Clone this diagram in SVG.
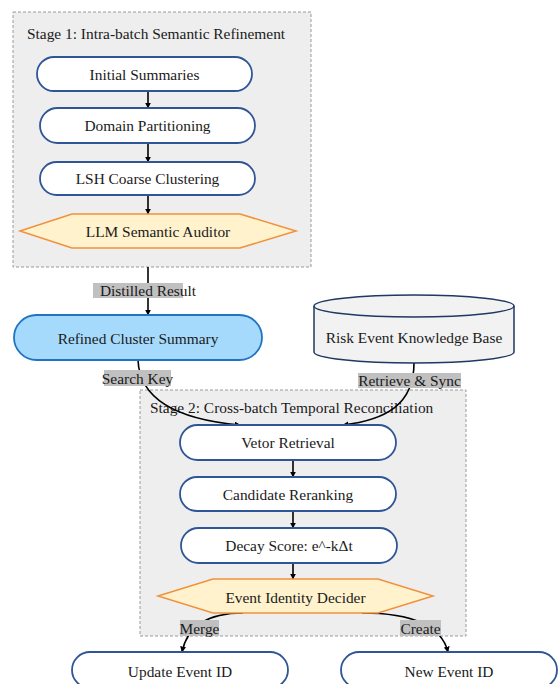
<svg xmlns="http://www.w3.org/2000/svg" width="559" height="684" viewBox="0 0 559 684">
<style>
text{font-family:"Liberation Serif","Times New Roman",serif;font-size:15.4px;fill:#1a1a1a}
.c{text-anchor:middle;dominant-baseline:central}
.cluster{fill:#eeeeee;stroke:#999;stroke-width:1;stroke-dasharray:3,2}
.node{fill:#ffffff;stroke:#2f5597;stroke-width:1.8}
.hex{fill:#fff2cc;stroke:#f0913c;stroke-width:1.5}
.edge{fill:none;stroke:#000;stroke-width:1.6}
.lbl{fill:#c0c0c0}
</style>
<defs>
<marker id="ah" viewBox="0 0 10 10" refX="9" refY="5" markerWidth="6" markerHeight="6" orient="auto-start-reverse" markerUnits="userSpaceOnUse">
<path d="M0,0 L10,5 L0,10 z" fill="#000"/>
</marker>
</defs>
<g id="stage1">
<rect class="cluster" x="13" y="12" width="298" height="255"/>
<text x="27" y="39">Stage 1: Intra-batch Semantic Refinement</text>
</g>
<g id="stage2">
<rect class="cluster" x="140" y="390" width="326" height="246"/>
<text x="150" y="413">Stage 2: Cross-batch Temporal Reconciliation</text>
</g>
<g id="connectors">
<path class="edge" d="M148,91 L148,108" marker-end="url(#ah)"/>
<path class="edge" d="M148,143 L148,162" marker-end="url(#ah)"/>
<path class="edge" d="M148,195 L148,214" marker-end="url(#ah)"/>
<path class="edge" d="M148,267 L148,315" marker-end="url(#ah)"/>
<path class="edge" d="M138,360 C140,408 195,421 240,425" marker-end="url(#ah)"/>
<path class="edge" d="M414,363 C414,405 385,420 343,425" marker-end="url(#ah)"/>
<path class="edge" d="M293,460 L293,477" marker-end="url(#ah)"/>
<path class="edge" d="M293,511 L293,528" marker-end="url(#ah)"/>
<path class="edge" d="M293,563 L293,579" marker-end="url(#ah)"/>
<path class="edge" d="M243,613 C205,613 187,628 182,652" marker-end="url(#ah)"/>
<path class="edge" d="M362,613 C418,613 442,628 448,652" marker-end="url(#ah)"/>
<rect class="lbl" x="93" y="283" width="90" height="15"/>
<text class="c" x="148" y="290.5">Distilled Result</text>
<rect class="lbl" x="104" y="370" width="67" height="16"/>
<text class="c" x="137.5" y="378">Search Key</text>
<rect class="lbl" x="358" y="373" width="103" height="15"/>
<text class="c" x="409.5" y="380.5">Retrieve &amp; Sync</text>
<rect class="lbl" x="180" y="620" width="39" height="16"/>
<text class="c" x="199.5" y="628">Merge</text>
<rect class="lbl" x="400" y="620" width="41" height="16"/>
<text class="c" x="420.5" y="628">Create</text>
</g>
<g id="initial-summaries">
<rect class="node" x="37" y="57" width="215" height="34" rx="17"/>
<text class="c" x="144.5" y="74">Initial Summaries</text>
</g>
<g id="domain-partitioning">
<rect class="node" x="40" y="108" width="215" height="35" rx="17.5"/>
<text class="c" x="147.5" y="125.5">Domain Partitioning</text>
</g>
<g id="lsh-coarse-clustering">
<rect class="node" x="40" y="162" width="215" height="33" rx="16.5"/>
<text class="c" x="147.5" y="178.5">LSH Coarse Clustering</text>
</g>
<g id="llm-semantic-auditor">
<polygon class="hex" points="20,231 72,214 240,214 296,231 240,248 72,248"/>
<text class="c" x="158" y="231">LLM Semantic Auditor</text>
</g>
<g id="refined-cluster-summary">
<rect x="14" y="315" width="248" height="45" rx="22.5" fill="#a6dafd" stroke="#1f74c4" stroke-width="1.8"/>
<text class="c" x="138" y="338">Refined Cluster Summary</text>
</g>
<g id="risk-event-knowledge-base">
<path d="M314,306 L314,352 A100,11 0 0 0 514,352 L514,306" fill="#f2f2f2" stroke="#1f3864" stroke-width="1.5"/>
<ellipse cx="414" cy="306" rx="100" ry="11" fill="#f2f2f2" stroke="#1f3864" stroke-width="1.5"/>
<text class="c" x="414" y="337">Risk Event Knowledge Base</text>
</g>
<g id="vetor-retrieval">
<rect class="node" x="180" y="425" width="216" height="35" rx="17.5"/>
<text class="c" x="288" y="442.5">Vetor Retrieval</text>
</g>
<g id="candidate-reranking">
<rect class="node" x="180" y="477" width="216" height="34" rx="17"/>
<text class="c" x="288" y="494">Candidate Reranking</text>
</g>
<g id="decay-score">
<rect class="node" x="181" y="528" width="216" height="35" rx="17.5"/>
<text class="c" x="289" y="545.5">Decay Score: e^-kΔt</text>
</g>
<g id="event-identity-decider">
<polygon class="hex" points="158,596 213,579 378,579 433,596 378,613 213,613"/>
<text class="c" x="295.5" y="597">Event Identity Decider</text>
</g>
<g id="update-event-id">
<rect class="node" x="72" y="652" width="216" height="36" rx="18"/>
<text class="c" x="180" y="671">Update Event ID</text>
</g>
<g id="new-event-id">
<rect class="node" x="341" y="652" width="216" height="36" rx="18"/>
<text class="c" x="449" y="671">New Event ID</text>
</g>
</svg>
